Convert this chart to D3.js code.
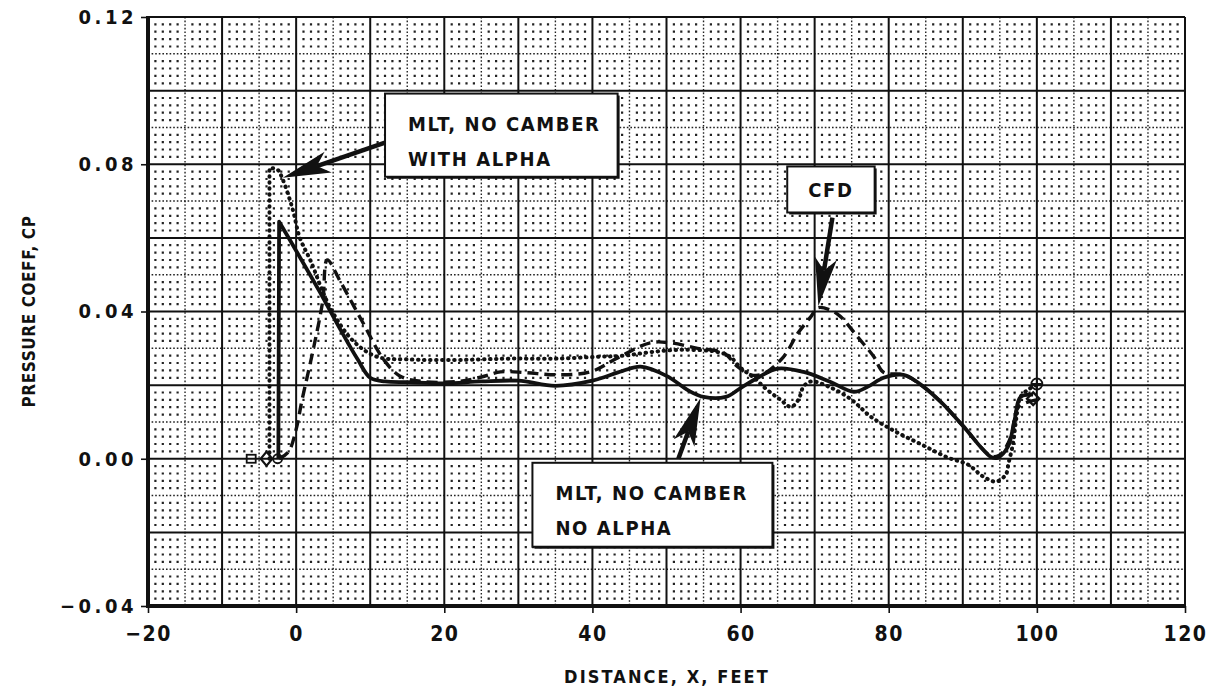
<!DOCTYPE html>
<html>
<head>
<meta charset="utf-8">
<script src="https://cdn.jsdelivr.net/npm/d3@7"></script>
<style>
  body { margin: 0; background: #fff; }
  svg { display: block; }
  .tick text { font-family: "DejaVu Sans Condensed", "DejaVu Sans", sans-serif; font-weight: bold; fill: #111; }
  .lbl { font-family: "DejaVu Sans Condensed", "DejaVu Sans", sans-serif; font-weight: bold; fill: #111; }
</style>
</head>
<body>
<div id="chart"></div>
<script>
// MLT, no camber, no alpha (solid)
const noAlphaX = [-2.4, -2.3, 0, 3, 6, 8.3, 10, 12, 15, 20, 25, 30, 35, 40, 44, 46.5, 50, 53, 55, 58, 60, 62.5, 65, 68.5, 72, 75.3, 77.2, 79.3, 82, 84, 87, 90, 93.8, 94.7, 96.1, 97, 97.8, 99.5];
const noAlphaY = [0.000, 0.0644, 0.0565, 0.046, 0.035, 0.027, 0.022, 0.021, 0.0208, 0.0205, 0.021, 0.0212, 0.0198, 0.0212, 0.0238, 0.025, 0.0225, 0.0185, 0.0168, 0.0168, 0.0192, 0.0222, 0.0245, 0.0236, 0.021, 0.0182, 0.0196, 0.022, 0.0228, 0.0206, 0.0155, 0.009, 0.0005, 0.0003, 0.0033, 0.0106, 0.0168, 0.0174];

// MLT, no camber, with alpha (dotted)
const withAlphaX = [-3.6, -3.6, -2.5, -1.9, -0.5, 0.5, 1.9, 4.6, 7.7, 10.9, 15, 21, 25, 29, 35, 40.7, 44.2, 48, 52.3, 56.9, 58.6, 60, 61.8, 63.6, 65.4, 66.8, 67.8, 68.5, 69.5, 72, 75, 77.6, 80.7, 84.5, 88, 90.7, 92.8, 94.5, 95.8, 96.2, 96.8, 97.2, 97.8, 99, 99.9];
const withAlphaY = [0.000, 0.079, 0.0785, 0.0763, 0.068, 0.060, 0.054, 0.041, 0.032, 0.0277, 0.027, 0.0268, 0.027, 0.0272, 0.0272, 0.0277, 0.028, 0.029, 0.0296, 0.029, 0.0277, 0.0247, 0.022, 0.0187, 0.016, 0.0141, 0.016, 0.0196, 0.021, 0.0195, 0.016, 0.0114, 0.0076, 0.0038, 0.0003, -0.0016, -0.0049, -0.0062, -0.0043, -0.001, 0.0043, 0.0106, 0.0168, 0.019, 0.020];

// CFD (dashed)
const cfdX = [-2.3, -1, 0, 0.8, 2.3, 3.6, 4.2, 6, 9, 11.8, 14, 17, 22, 25, 27.6, 31, 35, 39.7, 43.4, 47.8, 50.5, 54.2, 57.7, 59.6, 61.4, 63, 65.8, 67.7, 69.5, 70.4, 72, 73.5, 75.8, 78, 79.3, 82, 84, 87, 90, 93.8, 95, 96.5, 97.5, 99.9];
const cfdY = [0.000, 0.002, 0.008, 0.016, 0.0296, 0.043, 0.054, 0.048, 0.037, 0.027, 0.0225, 0.021, 0.021, 0.0222, 0.0236, 0.0234, 0.0228, 0.0236, 0.0274, 0.0315, 0.0315, 0.030, 0.0288, 0.025, 0.0228, 0.023, 0.0277, 0.034, 0.0386, 0.041, 0.0405, 0.0386, 0.0331, 0.0277, 0.0235, 0.0228, 0.0206, 0.0155, 0.009, 0.0008, 0.001, 0.006, 0.014, 0.016];

const xTicks = [-20, 0, 20, 40, 60, 80, 100, 120];
const yTicks = [-0.04, 0.00, 0.04, 0.08, 0.12];

// annotation boxes: [x0, x1] in feet, [y0, y1] in Cp, lines of text
const boxX = [[12.0, 43.4], [66.3, 78.1], [31.9, 64.3]];
const boxY = [[0.0992, 0.0766], [0.0794, 0.0669], [-0.0011, -0.0239]];
const boxText = [["MLT, NO CAMBER", "WITH ALPHA"], ["CFD"], ["MLT, NO CAMBER", "NO ALPHA"]];
// arrows: tail and tip
const arrowFrom = [[12.0, 0.0859], [72.4, 0.0655], [51.6, 0.0]];
const arrowTo = [[-1.8, 0.0763], [70.5, 0.0415], [54.6, 0.0165]];

const width = 1221, height = 696;
const x = d3.scaleLinear().domain([-20, 120]).range([148, 1185]);
const y = d3.scaleLinear().domain([-0.04, 0.12]).range([606, 17]);

const svg = d3.select('#chart').append('svg')
    .attr('width', width).attr('height', height);

// dot grid
let dotPath = '';
for (let i = -20; i <= 120; i++) {
    if (i % 5 === 0) continue;
    for (let j = -20; j <= 60; j++) {
        if (j % 5 === 0) continue;
        const px = x(i), py = y(j * 0.002);
        dotPath += `M${(px - 1.1).toFixed(1)},${(py - 1.1).toFixed(1)}h2.2v2.2h-2.2z`;
    }
}
svg.append('path').attr('d', dotPath).attr('fill', '#222');

const grid = svg.append('g');
// dotted minor lines
grid.selectAll('.vminor').data(d3.range(-15, 120, 10)).join('line')
    .attr('x1', d => x(d)).attr('x2', d => x(d)).attr('y1', y(0.12)).attr('y2', y(-0.04))
    .attr('stroke', '#222').attr('stroke-width', 1.4).attr('stroke-dasharray', '1.6 2');
grid.selectAll('.hminor').data(d3.range(-0.03, 0.12, 0.02)).join('line')
    .attr('x1', x(-20)).attr('x2', x(120)).attr('y1', d => y(d)).attr('y2', d => y(d))
    .attr('stroke', '#222').attr('stroke-width', 1.4).attr('stroke-dasharray', '1.6 2');
// solid major lines
grid.selectAll('.vmajor').data(d3.range(-20, 121, 10)).join('line')
    .attr('x1', d => x(d)).attr('x2', d => x(d)).attr('y1', y(0.12)).attr('y2', y(-0.04))
    .attr('stroke', '#111').attr('stroke-width', 2);
grid.selectAll('.hmajor').data(d3.range(-0.04, 0.1201, 0.02)).join('line')
    .attr('x1', x(-20)).attr('x2', x(120)).attr('y1', d => y(d)).attr('y2', d => y(d))
    .attr('stroke', '#111').attr('stroke-width', 2);

// axes
const xAxis = svg.append('g').attr('transform', `translate(0,${y(-0.04)})`)
    .call(d3.axisBottom(x).tickValues(xTicks).tickSize(7).tickSizeOuter(0).tickFormat(d3.format('d')));
const yAxis = svg.append('g').attr('transform', `translate(${x(-20)},0)`)
    .call(d3.axisLeft(y).tickValues(yTicks).tickSize(7).tickSizeOuter(0).tickFormat(d => d3.format('.2f')(d).replace('-', '\u2212')));
xAxis.selectAll('.tick text').attr('font-size', 21).attr('dy', '1.2em').attr('letter-spacing', 1.5)
    .text(d => String(d).replace('-', '\u2212'));
yAxis.selectAll('.tick text').attr('font-size', 20).attr('letter-spacing', 3.5).attr('dx', -1);
svg.selectAll('.domain').remove();
svg.selectAll('.tick line').attr('stroke', '#111').attr('stroke-width', 1.6);
svg.append('line').attr('x1', x(-20)).attr('x2', x(-20)).attr('y1', y(0.12) - 1).attr('y2', y(-0.04) + 2)
    .attr('stroke', '#111').attr('stroke-width', 4);
svg.append('line').attr('x1', x(-20) - 2).attr('x2', x(120)).attr('y1', y(-0.04)).attr('y2', y(-0.04))
    .attr('stroke', '#111').attr('stroke-width', 4);

svg.append('text').attr('class', 'lbl')
    .attr('transform', `translate(35,${(y(0.12) + y(-0.04)) / 2}) rotate(-90)`)
    .attr('text-anchor', 'middle').attr('font-size', 17).attr('letter-spacing', 0.6)
    .text('PRESSURE COEFF, CP');
svg.append('text').attr('class', 'lbl')
    .attr('x', 667).attr('y', 683).attr('text-anchor', 'middle')
    .attr('font-size', 18).attr('letter-spacing', 2.1)
    .text('DISTANCE, X, FEET');

// curves: first leg of the MLT curves is a straight vertical rise
const smooth = d3.line().x(d => x(d[0])).y(d => y(d[1])).curve(d3.curveCatmullRom.alpha(0.5));
const zip = (a, b) => a.map((v, i) => [v, b[i]]);
function riseThenSmooth(pts) {
    return `M${x(pts[0][0])},${y(pts[0][1])}L` + smooth(pts.slice(1)).slice(1);
}

svg.append('path').attr('d', riseThenSmooth(zip(withAlphaX, withAlphaY)))
    .attr('fill', 'none').attr('stroke', '#111').attr('stroke-width', 4)
    .attr('stroke-linecap', 'round').attr('stroke-dasharray', '0.5 5.5');
svg.append('path').datum(zip(cfdX, cfdY)).attr('d', smooth)
    .attr('fill', 'none').attr('stroke', '#111').attr('stroke-width', 3.4)
    .attr('stroke-dasharray', '11 6');
svg.append('path').attr('d', riseThenSmooth(zip(noAlphaX, noAlphaY)))
    .attr('fill', 'none').attr('stroke', '#111').attr('stroke-width', 3.8)
    .attr('stroke-linejoin', 'round');

// end symbols
const sym = svg.append('g').attr('fill', 'none').attr('stroke', '#111').attr('stroke-width', 1.8);
sym.append('rect').attr('x', x(-6) - 5).attr('y', y(0) - 4).attr('width', 9).attr('height', 8);
sym.append('path').attr('d', d3.symbol(d3.symbolDiamond, 70)()).attr('transform', `translate(${x(-4)},${y(0)}) scale(1.3,0.9)`);
sym.append('circle').attr('cx', x(-2.5)).attr('cy', y(0)).attr('r', 4.5);
sym.append('circle').attr('cx', x(100)).attr('cy', y(0.0203)).attr('r', 5.5);
sym.append('path').attr('d', `M${x(100) - 5},${y(0.0203)}h10M${x(100)},${y(0.0203) - 5}v10`);
sym.append('path').attr('d', d3.symbol(d3.symbolDiamond, 60)()).attr('transform', `translate(${x(99.5)},${y(0.0163)}) scale(1.5,0.9)`);

// annotations
function arrow(x1, y1, x2, y2) {
    const dx = x2 - x1, dy = y2 - y1, L = Math.hypot(dx, dy);
    const ux = dx / L, uy = dy / L, nx = -uy, ny = ux;
    const hl = 48, hw = 11;
    const bx = x2 - ux * hl, by = y2 - uy * hl;
    const nk = x2 - ux * hl * 0.75, nky = y2 - uy * hl * 0.75;
    const g = svg.append('g');
    g.append('line').attr('x1', x1).attr('y1', y1).attr('x2', nk).attr('y2', nky)
        .attr('stroke', '#111').attr('stroke-width', 4.5);
    g.append('path')
        .attr('d', `M${x2},${y2}L${bx + nx * hw},${by + ny * hw}L${nk},${nky}L${bx - nx * hw},${by - ny * hw}Z`)
        .attr('fill', '#111');
}
boxX.forEach((bx, i) => {
    const x0 = x(bx[0]), x1 = x(bx[1]), y0 = y(boxY[i][0]), y1 = y(boxY[i][1]);
    arrow(x(arrowFrom[i][0]), y(arrowFrom[i][1]), x(arrowTo[i][0]), y(arrowTo[i][1]));
    svg.append('rect').attr('x', x0 + 2).attr('y', y0 + 2).attr('width', x1 - x0).attr('height', y1 - y0)
        .attr('fill', '#111');
    svg.append('rect').attr('x', x0).attr('y', y0).attr('width', x1 - x0).attr('height', y1 - y0)
        .attr('fill', '#fff').attr('stroke', '#111').attr('stroke-width', 2);
    const lines = boxText[i];
    lines.forEach((t, k) => {
        const single = lines.length === 1;
        svg.append('text').attr('class', 'lbl')
            .attr('x', single ? (x0 + x1) / 2 : x0 + 23)
            .attr('y', single ? (y0 + y1) / 2 + 8 : y0 + 37 + k * 35)
            .attr('text-anchor', single ? 'middle' : 'start')
            .attr('font-size', 20).attr('letter-spacing', 1.6)
            .text(t);
    });
});
</script>
</body>
</html>
